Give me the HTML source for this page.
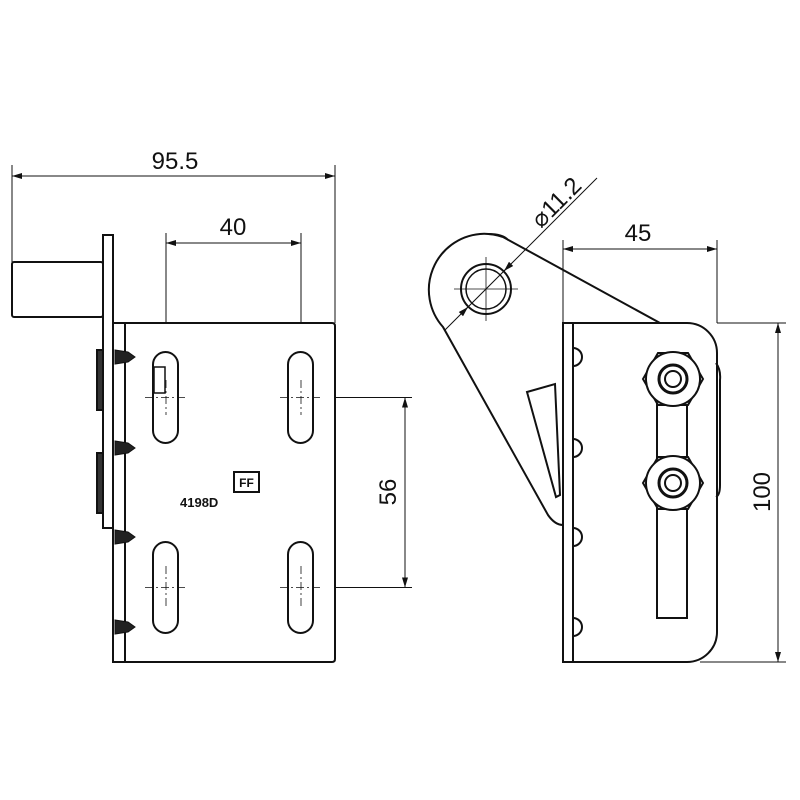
<!DOCTYPE html>
<html><head><meta charset="utf-8"><style>
html,body{margin:0;padding:0;background:#fff;}
svg{display:block;}
text{font-family:"Liberation Sans",sans-serif;fill:#111;}
</style></head><body>
<svg width="800" height="800" viewBox="0 0 800 800" xmlns="http://www.w3.org/2000/svg">
<defs>
<marker id="ar" viewBox="0 0 10 6" refX="10" refY="3" markerWidth="14" markerHeight="6" markerUnits="userSpaceOnUse" orient="auto-start-reverse"><path d="M0,0 L10,3 L0,6 z" fill="#111"/></marker>
</defs>
<g fill="none" stroke="#111" stroke-width="1">
<!-- 95.5 -->
<line x1="12" y1="165" x2="12" y2="262"/>
<line x1="335" y1="165" x2="335" y2="323"/>
<line x1="12" y1="176" x2="335" y2="176" marker-start="url(#ar)" marker-end="url(#ar)"/>
<!-- 40 -->
<line x1="166" y1="233" x2="166" y2="352"/>
<line x1="301" y1="233" x2="301" y2="352"/>
<line x1="166" y1="243" x2="301" y2="243" marker-start="url(#ar)" marker-end="url(#ar)"/>
<!-- 56 -->
<line x1="313" y1="397.5" x2="412" y2="397.5"/>
<line x1="313" y1="587.5" x2="412" y2="587.5"/>
<line x1="405" y1="397.5" x2="405" y2="587.5" marker-start="url(#ar)" marker-end="url(#ar)"/>
<!-- 45 -->
<line x1="563" y1="240" x2="563" y2="323"/>
<line x1="717" y1="240" x2="717" y2="323"/>
<line x1="563" y1="249" x2="717" y2="249" marker-start="url(#ar)" marker-end="url(#ar)"/>
<!-- 100 -->
<line x1="717" y1="323" x2="786" y2="323"/>
<line x1="700" y1="662" x2="786" y2="662"/>
<line x1="778" y1="323" x2="778" y2="662" marker-start="url(#ar)" marker-end="url(#ar)"/>
<!-- diameter leader -->
<line x1="597" y1="178" x2="445" y2="330"/>
<line x1="511" y1="264" x2="504" y2="271" marker-end="url(#ar)"/>
<line x1="461" y1="314" x2="468" y2="307" marker-end="url(#ar)"/>
</g>
<g font-size="24">
<text x="175" y="169" text-anchor="middle">95.5</text>
<text x="233" y="235" text-anchor="middle">40</text>
<text x="638" y="241" text-anchor="middle">45</text>
<text transform="translate(396,492) rotate(-90)" text-anchor="middle">56</text>
<text transform="translate(770,492) rotate(-90)" text-anchor="middle">100</text>
<text transform="translate(562,208) rotate(-45)" text-anchor="middle">⌀11.2</text>
</g>
<!-- LEFT VIEW -->
<g fill="none" stroke="#111" stroke-width="2">
<rect x="12" y="262" width="91" height="55" rx="2"/>
<rect x="103" y="235" width="10" height="293" fill="#fff"/>
<path d="M113,323 H332 Q335,323 335,326 V659 Q335,662 332,662 H113 Z" fill="#fff"/>
<line x1="125" y1="323" x2="125" y2="662"/>
<rect x="97" y="350" width="6" height="60" fill="#333"/>
<rect x="97" y="453" width="6" height="60" fill="#333"/>
<rect x="153" y="352" width="25" height="91" rx="12.5"/>
<rect x="288" y="352" width="25" height="91" rx="12.5"/>
<rect x="153" y="542" width="25" height="91" rx="12.5"/>
<rect x="288" y="542" width="25" height="91" rx="12.5"/>
<rect x="154" y="367" width="11" height="26" stroke-width="1.5"/>
</g>
<g fill="#222" stroke="#111" stroke-width="1">
<path d="M115,350 L128,352 L135,357 L128,362 L115,364 Z"/>
<path d="M115,441 L128,443 L135,448 L128,453 L115,455 Z"/>
<path d="M115,530 L128,532 L135,537 L128,542 L115,544 Z"/>
<path d="M115,620 L128,622 L135,627 L128,632 L115,634 Z"/>
</g>
<g stroke="#111" stroke-width="0.8" stroke-dasharray="8,3,2,3" fill="none">
<line x1="145" y1="397.5" x2="187" y2="397.5"/><line x1="166" y1="380" x2="166" y2="415"/>
<line x1="280" y1="397.5" x2="322" y2="397.5"/><line x1="301" y1="380" x2="301" y2="415"/>
<line x1="145" y1="587.5" x2="187" y2="587.5"/><line x1="166" y1="566" x2="166" y2="608"/>
<line x1="280" y1="587.5" x2="322" y2="587.5"/><line x1="301" y1="566" x2="301" y2="608"/>
</g>
<text x="180" y="507" font-size="13" font-weight="bold">4198D</text>
<rect x="234" y="472" width="25" height="20" fill="#fff" stroke="#111" stroke-width="2"/>
<text x="246.5" y="487" font-size="12" font-weight="bold" text-anchor="middle">FF</text>
<!-- RIGHT VIEW -->
<g fill="none" stroke="#111" stroke-width="2">
<path d="M503,237 L660,323 M488,234 Q503,234 508,240" />
<path d="M503,237 Q490,233 480,234 A56,56 0 0 0 443,327 L548,515 Q555,525 563,525"/>
<path d="M563,323 H687 A30,30 0 0 1 717,353 V632 A30,30 0 0 1 687,662 H563 Z" fill="#fff"/>
<line x1="573" y1="323" x2="573" y2="662"/>
<path d="M716,363 Q721,370 720,380 V485 Q720,495 716,497"/>
<path d="M527,392 L555,384 L560,495 L556,497 Z" fill="#fff"/>
<rect x="657" y="385" width="30" height="233"/>
<circle cx="486" cy="289" r="25"/>
<circle cx="486" cy="289" r="20" stroke-width="1.5"/>
</g>
<g fill="#fff" stroke="#111" stroke-width="2">
<path d="M573,348 A9,9 0 0 1 573,366 Z"/>
<path d="M573,439 A9,9 0 0 1 573,457 Z"/>
<path d="M573,528 A9,9 0 0 1 573,546 Z"/>
<path d="M573,618 A9,9 0 0 1 573,636 Z"/>
<polygon points="703,379 688,405 658,405 643,379 658,353 688,353"/>
<circle cx="673" cy="379" r="27"/><circle cx="673" cy="379" r="14" stroke-width="3"/><circle cx="673" cy="379" r="8"/>
<polygon points="703,483 688,509 658,509 643,483 658,457 688,457"/>
<circle cx="673" cy="483" r="27"/><circle cx="673" cy="483" r="14" stroke-width="3"/><circle cx="673" cy="483" r="8"/>
</g>
<g stroke="#111" stroke-width="0.8">
<line x1="454" y1="289" x2="518" y2="289"/><line x1="486" y1="257" x2="486" y2="321"/>
</g>
</svg>
</body></html>
